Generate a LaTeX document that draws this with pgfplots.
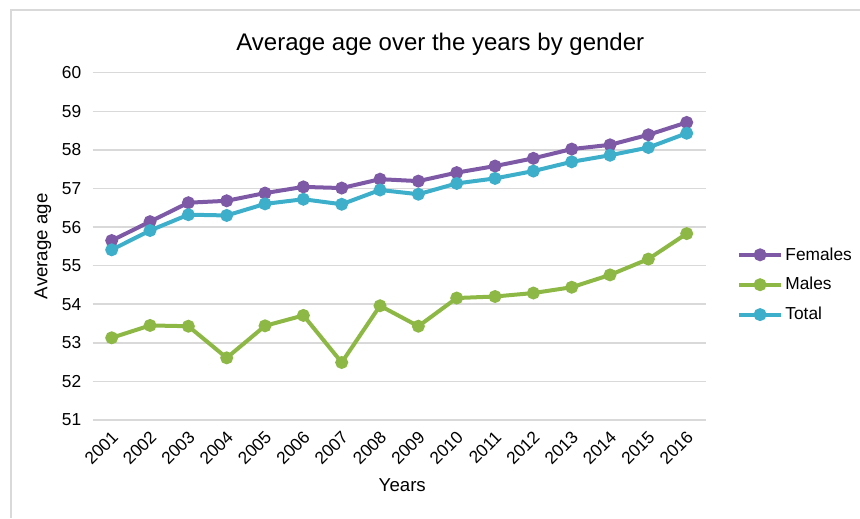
\documentclass[border=0pt]{standalone}
\usepackage{fontspec}
\setmainfont{Liberation Sans}
\usepackage{pgfplots}
\pgfplotsset{compat=1.18}
\definecolor{fem}{HTML}{7E5AA6}
\definecolor{mal}{HTML}{8EB845}
\definecolor{tot}{HTML}{3DAFCA}
\definecolor{gridc}{HTML}{D9D9D9}
\begin{document}
\begin{tikzpicture}
\path[use as bounding box] (0,0) rectangle (645pt,388.5pt);
\draw[gridc, line width=1pt] (8.25pt,0) -- (8.25pt,381pt) -- (645pt,381pt);
\begin{axis}[
  at={(69.4pt,73.5pt)}, anchor=south west,
  scale only axis, width=460pt, height=260.5pt,
  xmin=2000.5, xmax=2016.5, ymin=51, ymax=60,
  xtick={2001,...,2016}, ytick={51,...,60},
  axis line style={draw=none},
  ymajorgrids, major grid style={gridc, line width=1.1pt},
  major tick length=0pt,
  /pgf/number format/assume math mode=true,
  /pgf/number format/1000 sep={},
  tick label style={font=\fontsize{13}{15}\selectfont},
  yticklabel style={xshift=-5pt},
  xticklabel style={rotate=45, anchor=east, xshift=-2.3pt, yshift=-9.3pt},
  title={Average age over the years by gender},
  title style={font=\fontsize{18}{21}\selectfont, at={(axis description cs:0.567,1.059)}, anchor=center},
  xlabel={Years},
  xlabel style={font=\fontsize{14}{16}\selectfont, at={(axis description cs:0.505,-0.187)}, anchor=center},
  ylabel={Average age},
  ylabel style={font=\fontsize{14}{16}\selectfont, at={(axis description cs:-0.081,0.5)}, anchor=center},
  legend style={at={(axis description cs:1.051,0.505)}, anchor=north west, draw=none,
    font=\fontsize{13}{15}\selectfont, row sep=7.5pt, inner sep=0pt},
  legend cell align=left,
  legend image code/.code={\draw[mark repeat=2, mark phase=2] plot coordinates {(0pt,0pt)(15.5pt,0pt)(31pt,0pt)};},
  every axis plot/.append style={line width=3pt, mark=*, mark size=3.3pt, mark options={solid}},
]
\addplot[fem] coordinates {
(2001,55.65)(2002,56.14)(2003,56.63)(2004,56.68)(2005,56.88)(2006,57.04)(2007,57.01)(2008,57.24)
(2009,57.19)(2010,57.41)(2011,57.58)(2012,57.78)(2013,58.02)(2014,58.13)(2015,58.39)(2016,58.71)};
\addlegendentry{Females}
\addplot[mal] coordinates {
(2001,53.13)(2002,53.45)(2003,53.43)(2004,52.61)(2005,53.44)(2006,53.71)(2007,52.49)(2008,53.96)
(2009,53.43)(2010,54.16)(2011,54.20)(2012,54.29)(2013,54.44)(2014,54.76)(2015,55.17)(2016,55.83)};
\addlegendentry{Males}
\addplot[tot] coordinates {
(2001,55.41)(2002,55.91)(2003,56.32)(2004,56.30)(2005,56.60)(2006,56.72)(2007,56.59)(2008,56.96)
(2009,56.85)(2010,57.13)(2011,57.26)(2012,57.45)(2013,57.69)(2014,57.86)(2015,58.06)(2016,58.43)};
\addlegendentry{Total}
\end{axis}
\end{tikzpicture}
\end{document}
